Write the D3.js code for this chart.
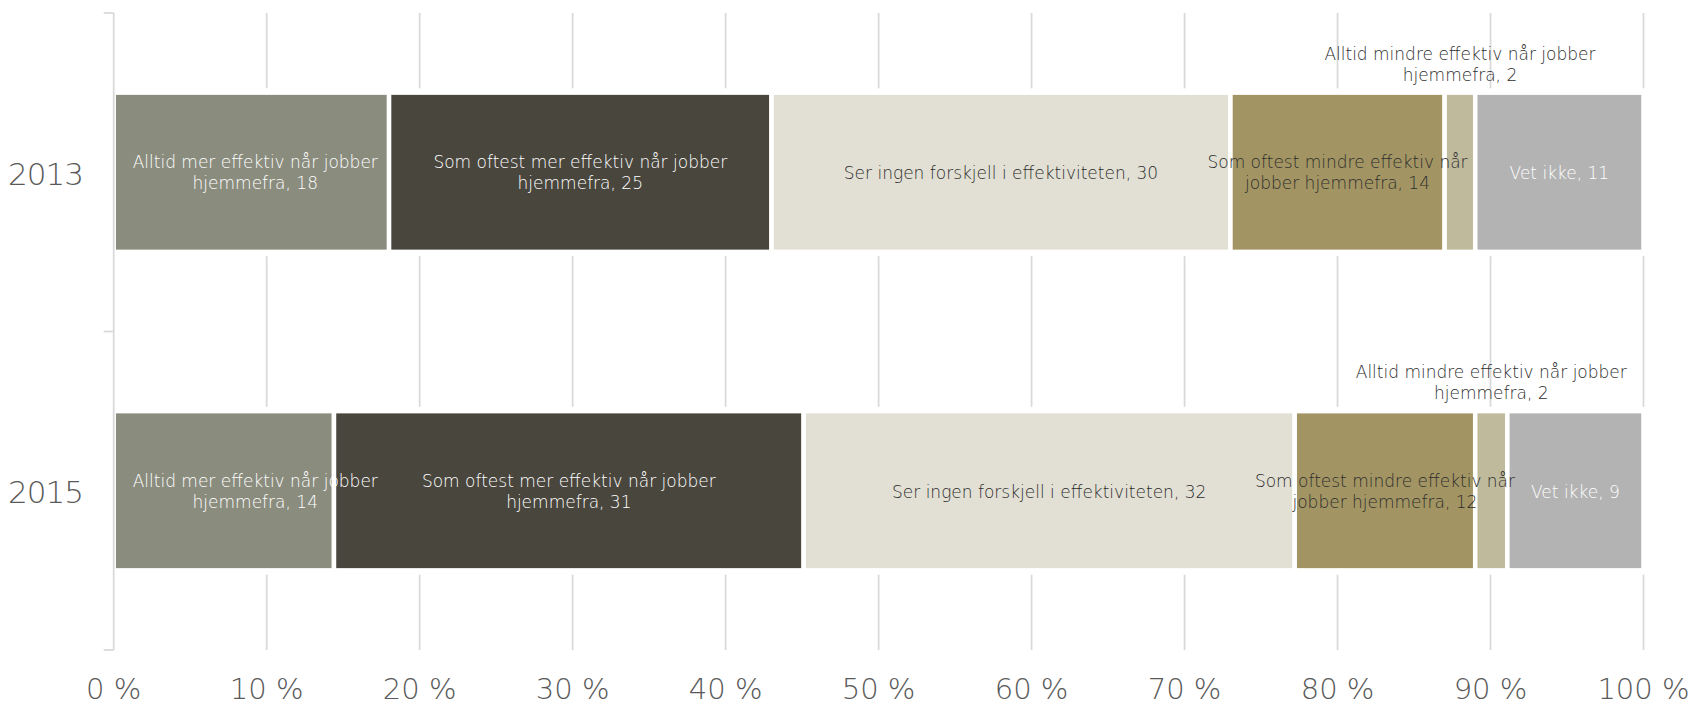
<!DOCTYPE html>
<html>
<head>
<meta charset="utf-8">
<script src="https://cdn.jsdelivr.net/npm/d3@7/dist/d3.min.js"></script>
<style>
  body { margin: 0; background: #fff; }
  text { font-family: "DejaVu Sans", sans-serif; }
</style>
</head>
<body>
<div id="chart"></div>
<script>
// data
const years = ["2013", "2015"];
const answers = [
  "Alltid mer effektiv når jobber\nhjemmefra",
  "Som oftest mer effektiv når jobber\nhjemmefra",
  "Ser ingen forskjell i effektiviteten",
  "Som oftest mindre effektiv når\njobber hjemmefra",
  "Alltid mindre effektiv når jobber\nhjemmefra",
  "Vet ikke"
];
const values2013 = [18, 25, 30, 14, 2, 11];
const values2015 = [14.4, 30.7, 32.1, 11.8, 2.1, 8.9];
const tickValues = [0, 10, 20, 30, 40, 50, 60, 70, 80, 90, 100];

// styles
const fills = ["#8a8c7e", "#49463e", "#e2e0d4", "#a39563", "#bfba9c", "#b3b3b3"];
const labelFills = ["#ffffff", "#ffffff", "#2e2e2e", "#2e2e2e", "#2e2e2e", "#ffffff"];

const width = 1689;
const height = 706;
const plotTop = 13;
const plotBottom = 650;

const rows = years.map((y, i) => {
  const vals = [values2013, values2015][i];
  let cum = 0;
  return {
    year: y,
    segs: vals.map((v, j) => {
      const s = { j: j, start: cum, value: v };
      cum += v;
      return s;
    })
  };
});

const x = d3.scaleLinear().domain([0, 100]).range([113.7, 1643.5]);
const y = d3.scaleBand().domain(years).range([plotTop, plotBottom])
  .paddingInner(0.5).paddingOuter(0.25);

const svg = d3.select("#chart").append("svg")
  .attr("width", width)
  .attr("height", height);

// gridlines
svg.append("g").selectAll("line")
  .data(tickValues.slice(1))
  .join("line")
  .attr("x1", d => x(d)).attr("x2", d => x(d))
  .attr("y1", plotTop).attr("y2", plotBottom)
  .attr("stroke", "#d9d9d9")
  .attr("stroke-width", 1.75);

const row = svg.append("g").selectAll("g")
  .data(rows)
  .join("g");

// white halo behind each bar row
row.append("rect")
  .attr("x", x(0))
  .attr("y", d => y(d.year))
  .attr("width", x(100) - x(0))
  .attr("height", y.bandwidth())
  .attr("fill", "#fff")
  .attr("stroke", "#fff")
  .attr("stroke-width", 8.6);

row.selectAll("rect.seg")
  .data(d => d.segs.map(s => Object.assign({ year: d.year }, s)))
  .join("rect")
  .attr("class", "seg")
  .attr("x", d => x(d.start))
  .attr("y", d => y(d.year))
  .attr("width", d => x(d.start + d.value) - x(d.start))
  .attr("height", y.bandwidth())
  .attr("fill", d => fills[d.j])
  .attr("stroke", "#fff")
  .attr("stroke-width", 4.5);

// axis line with ticks
const axis = svg.append("g").attr("stroke", "#d9d9d9").attr("stroke-width", 1.75);
axis.append("line")
  .attr("x1", x(0)).attr("x2", x(0))
  .attr("y1", plotTop).attr("y2", plotBottom);
axis.selectAll("line.tick")
  .data([plotTop, y.step() + plotTop, plotBottom])
  .join("line")
  .attr("class", "tick")
  .attr("x1", x(0) - 10).attr("x2", x(0))
  .attr("y1", d => d).attr("y2", d => d);

// data labels
const fmt = d3.format(".0f");
const fontSize = 17;
const lineH = 21;
const labels = svg.append("g");
rows.forEach(r => {
  r.segs.forEach(s => {
    const lines = (answers[s.j] + ", " + fmt(s.value)).split("\n");
    const cx = x(s.start + s.value / 2);
    const top = y(r.year) + 2.25;
    const cy = y(r.year) + y.bandwidth() / 2;
    const outside = s.value < 5;
    const t = labels.append("text")
      .attr("font-size", fontSize)
      .attr("font-weight", 200)
      .attr("text-anchor", "middle")
      .attr("fill", outside ? "#2e2e2e" : labelFills[s.j]);
    let base;
    if (outside) base = top - 14 - (lines.length - 1) * lineH;
    else if (lines.length === 1) base = cy + 7;
    else base = cy - 4;
    lines.forEach((ln, k) => {
      t.append("tspan").attr("y", base + k * lineH).text(ln);
    });
    // keep the label box inside the plot area
    const w = d3.max(t.selectAll("tspan").nodes(), n => n.getComputedTextLength());
    const pos = Math.min(Math.max(cx, x(0) + w / 2 + 19), x(100) - w / 2 - 15);
    t.selectAll("tspan").attr("x", pos);
  });
});

// year labels
svg.append("g").selectAll("text")
  .data(years)
  .join("text")
  .attr("x", 83)
  .attr("y", d => y(d) + y.bandwidth() / 2 + 12.5)
  .attr("text-anchor", "end")
  .attr("font-family", "Roboto")
  .attr("font-weight", 300)
  .attr("font-size", 31)
  .attr("letter-spacing", -1)
  .attr("fill", "#595959")
  .text(d => d);

// percent tick labels
svg.append("g").selectAll("text")
  .data(tickValues)
  .join("text")
  .attr("x", d => x(d))
  .attr("y", 699)
  .attr("text-anchor", "middle")
  .attr("font-family", "Roboto")
  .attr("font-weight", 300)
  .attr("font-size", 29)
  .attr("fill", "#595959")
  .text(d => d + " %");
</script>
</body>
</html>
